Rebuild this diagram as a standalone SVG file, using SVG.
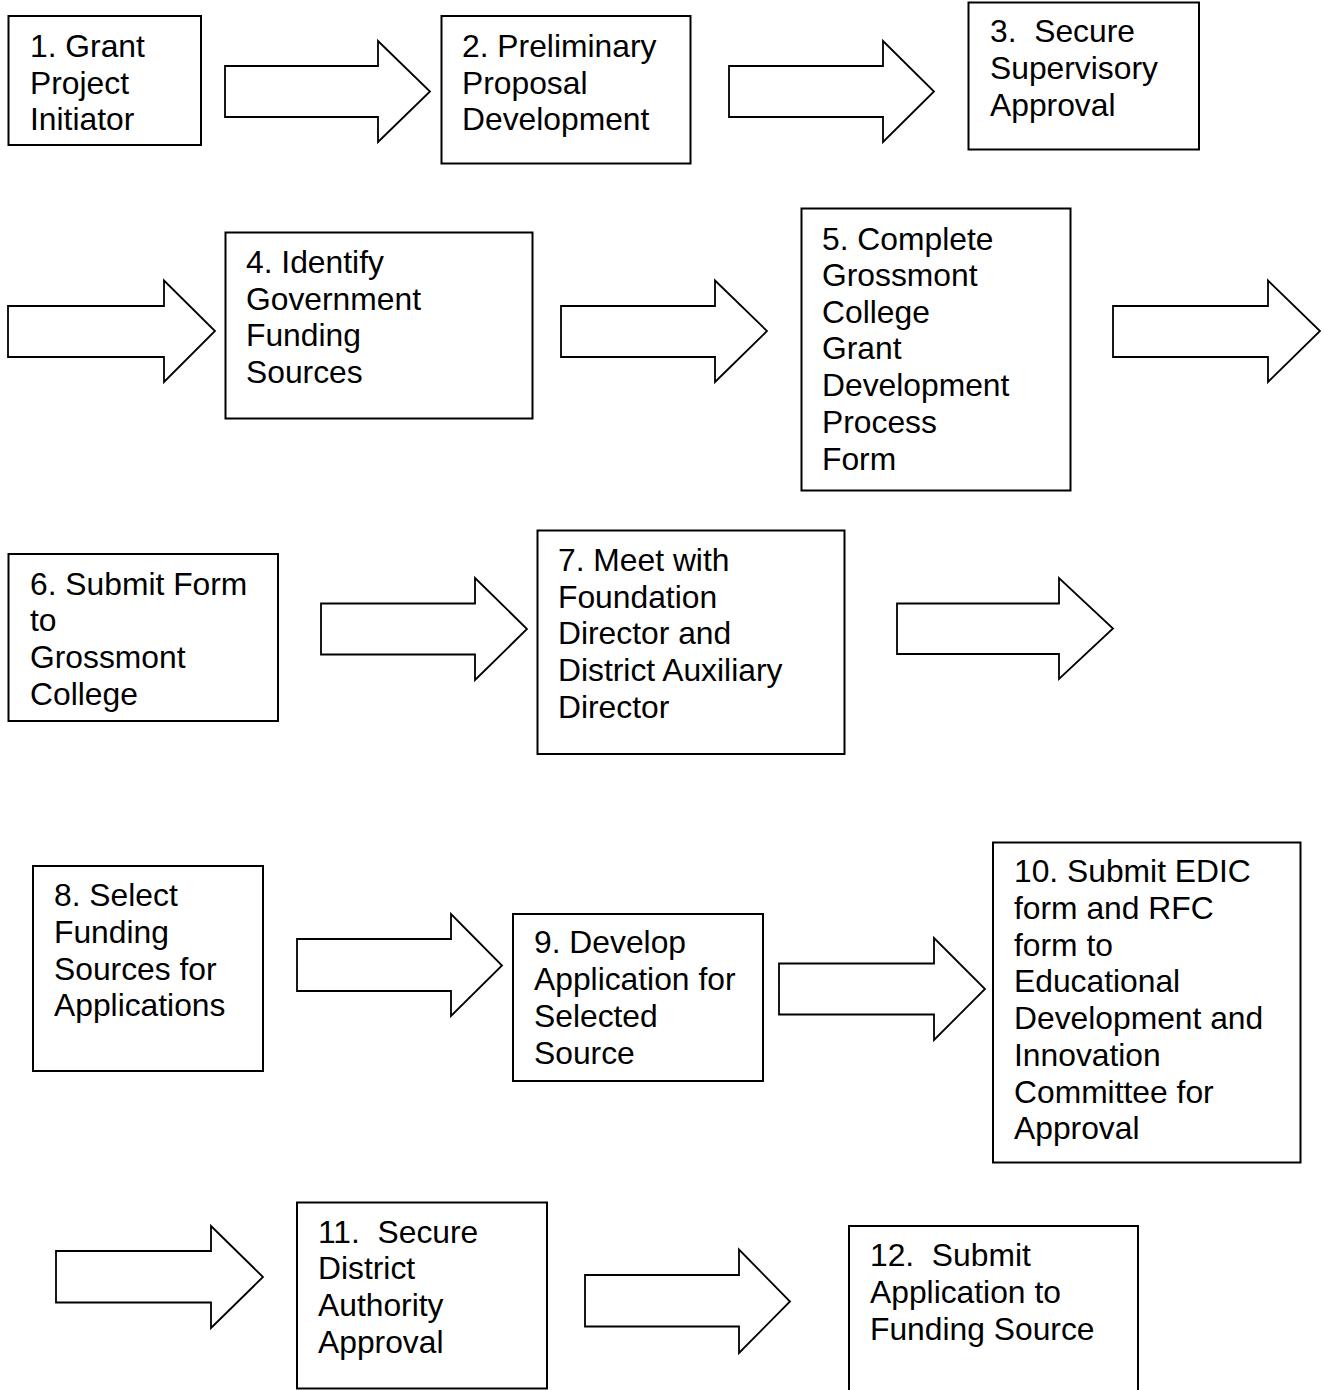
<svg xmlns="http://www.w3.org/2000/svg" width="1325" height="1390" viewBox="0 0 1325 1390">
<style>
.box{fill:#fff;stroke:#000;stroke-width:2}
.arr{fill:#fff;stroke:#000;stroke-width:1.8;stroke-linejoin:miter}
text{font-family:"Liberation Sans",Arial,sans-serif;font-size:31.8px;fill:#000}
</style>
<rect width="1325" height="1390" fill="#fff"/>
<g id="connectors">
<polygon class="arr" points="225,66 378,66 378,41 430,91.5 378,142 378,117 225,117"/>
<polygon class="arr" points="729,66 883,66 883,41 934,91.5 883,142 883,117 729,117"/>
<polygon class="arr" points="8,306 164,306 164,280.5 215,331 164,382 164,357 8,357"/>
<polygon class="arr" points="561,306 715,306 715,280.5 767,331 715,382 715,357 561,357"/>
<polygon class="arr" points="1113,306 1268,306 1268,280.5 1320,331 1268,382 1268,357 1113,357"/>
<polygon class="arr" points="321,603.5 475,603.5 475,578 527,629 475,680 475,654.5 321,654.5"/>
<polygon class="arr" points="897,603.5 1059,603.5 1059,578 1113,628.5 1059,679 1059,654 897,654"/>
<polygon class="arr" points="297,939 451,939 451,914 502,965.5 451,1016 451,991 297,991"/>
<polygon class="arr" points="779,963.5 934,963.5 934,938 985,989 934,1040 934,1014.5 779,1014.5"/>
<polygon class="arr" points="56,1251 211,1251 211,1226 263,1277 211,1328 211,1302.5 56,1302.5"/>
<polygon class="arr" points="585,1275 739,1275 739,1249.5 790,1301.5 739,1353 739,1326.5 585,1326.5"/>
</g>
<g id="node1">
<rect class="box" x="8.5" y="16" width="192.5" height="129"/>
<text x="30" y="57">1. Grant</text>
<text x="30" y="94">Project</text>
<text x="30" y="130">Initiator</text>
</g>
<g id="node2">
<rect class="box" x="441.5" y="16" width="249" height="147.5"/>
<text x="462" y="57">2. Preliminary</text>
<text x="462" y="94">Proposal</text>
<text x="462" y="130">Development</text>
</g>
<g id="node3">
<rect class="box" x="968.5" y="2.5" width="230.5" height="147"/>
<text x="990" y="42" xml:space="preserve">3.  Secure</text>
<text x="990" y="79">Supervisory</text>
<text x="990" y="116">Approval</text>
</g>
<g id="node4">
<rect class="box" x="225.5" y="232.5" width="307" height="186"/>
<text x="246" y="273">4. Identify</text>
<text x="246" y="309.5">Government</text>
<text x="246" y="346">Funding</text>
<text x="246" y="383">Sources</text>
</g>
<g id="node5">
<rect class="box" x="801.5" y="208.5" width="269" height="282"/>
<text x="822" y="249.5">5. Complete</text>
<text x="822" y="286">Grossmont</text>
<text x="822" y="322.5">College</text>
<text x="822" y="359">Grant</text>
<text x="822" y="396">Development</text>
<text x="822" y="432.5">Process</text>
<text x="822" y="469.5">Form</text>
</g>
<g id="node6">
<rect class="box" x="8.5" y="554" width="269.5" height="167"/>
<text x="30" y="594.5">6. Submit Form</text>
<text x="30" y="631">to</text>
<text x="30" y="668">Grossmont</text>
<text x="30" y="704.5">College</text>
</g>
<g id="node7">
<rect class="box" x="537.5" y="530.5" width="307" height="223.5"/>
<text x="558" y="570.5">7. Meet with</text>
<text x="558" y="607.5">Foundation</text>
<text x="558" y="644">Director and</text>
<text x="558" y="681">District Auxiliary</text>
<text x="558" y="717.5">Director</text>
</g>
<g id="node8">
<rect class="box" x="33" y="866" width="230" height="205"/>
<text x="54" y="906">8. Select</text>
<text x="54" y="943">Funding</text>
<text x="54" y="979.5">Sources for</text>
<text x="54" y="1016">Applications</text>
</g>
<g id="node9">
<rect class="box" x="513" y="914" width="250" height="167"/>
<text x="534" y="953">9. Develop</text>
<text x="534" y="990">Application for</text>
<text x="534" y="1026.5">Selected</text>
<text x="534" y="1063.5">Source</text>
</g>
<g id="node10">
<rect class="box" x="993" y="842.5" width="307.5" height="320"/>
<text x="1014" y="882">10. Submit EDIC</text>
<text x="1014" y="918.5">form and RFC</text>
<text x="1014" y="955.5">form to</text>
<text x="1014" y="992">Educational</text>
<text x="1014" y="1029">Development and</text>
<text x="1014" y="1065.5">Innovation</text>
<text x="1014" y="1102.5">Committee for</text>
<text x="1014" y="1139">Approval</text>
</g>
<g id="node11">
<rect class="box" x="297" y="1202.5" width="250" height="186"/>
<text x="318" y="1242.5" xml:space="preserve">11.  Secure</text>
<text x="318" y="1279">District</text>
<text x="318" y="1316">Authority</text>
<text x="318" y="1352.5">Approval</text>
</g>
<g id="node12">
<rect class="box" x="849" y="1226" width="289" height="200"/>
<text x="870" y="1266" xml:space="preserve">12.  Submit</text>
<text x="870" y="1303">Application to</text>
<text x="870" y="1339.5">Funding Source</text>
</g>
</svg>
